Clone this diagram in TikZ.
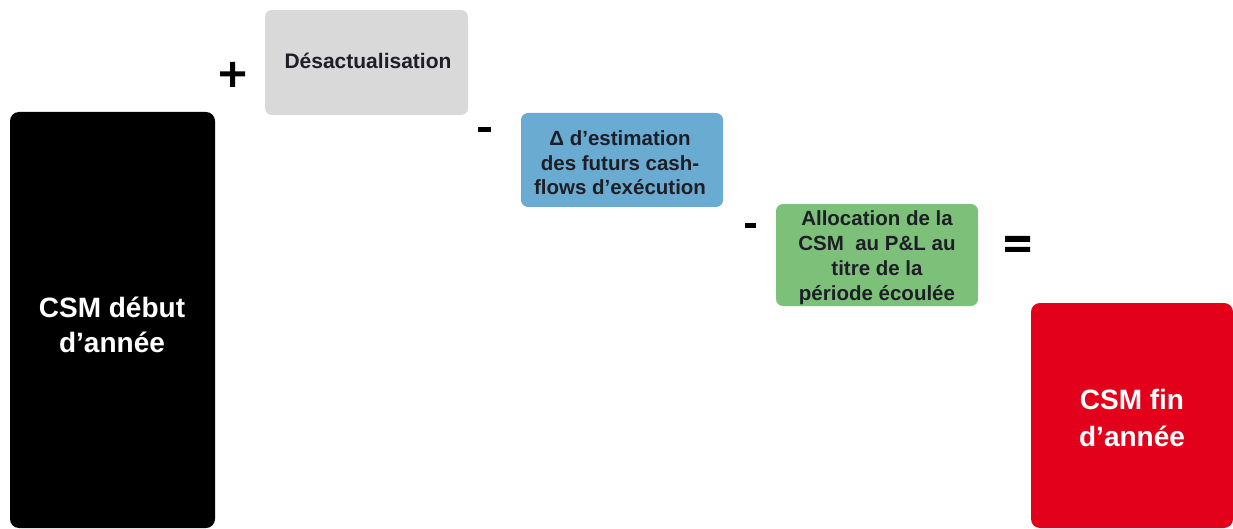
\documentclass[tikz,border=0pt]{standalone}
\usepackage{fontspec}
\setmainfont{Liberation Sans}
\definecolor{csmred}{RGB}{227,0,27}
\definecolor{greybox}{RGB}{217,217,217}
\definecolor{bluebox}{RGB}{106,171,210}
\definecolor{greenbox}{RGB}{125,192,122}
\definecolor{inktext}{RGB}{30,30,38}
\newcommand{\sq}{\symbol{"27}}
\begin{document}
\begin{tikzpicture}[x=1pt,y=1pt,
  box/.style={inner sep=0pt, align=center},
  small/.style={box, text=inktext, font=\bfseries\fontsize{20.5}{24.5}\selectfont}]
\useasboundingbox (0,0) rectangle (1233,528);
% opening and closing balances
\fill[black, rounded corners=9pt] (10,0) rectangle (215,416);
\node[box, text=white, font=\bfseries\fontsize{28}{35}\selectfont] (debut) at (112,203) {CSM début\\d’année};
\fill[csmred, rounded corners=9pt] (1031,0) rectangle (1233,225);
\node[box, text=white, font=\bfseries\fontsize{28}{37}\selectfont] (fin) at (1132,110) {CSM fin\\d’année};
% movements
\fill[greybox, rounded corners=7pt] (265,413) rectangle (468,518);
\node[box, text=inktext, font=\bfseries\fontsize{21}{24}\selectfont] (desact) at (368,467) {Désactualisation};
\fill[bluebox, rounded corners=7pt] (521,321) rectangle (723,415);
\node[small] (delta) at (620,365) {Δ d\sq estimation\\des futurs cash-\\flows d\sq exécution};
\fill[greenbox, rounded corners=7pt] (776,222) rectangle (978,324);
\node[small, font=\bfseries\fontsize{20.5}{25}\selectfont] (alloc) at (877,270) {Allocation de la\\CSM\ \ au P\&L au\\titre de la\\période écoulée};
% operators
\fill[black] (220,451.5) rectangle (245,456.5) (230,441) rectangle (235,466);
\fill[black] (478,396) rectangle (491,400.5);
\fill[black] (745,300) rectangle (756,305);
\fill[black] (1005,286) rectangle (1030,292) (1005,276) rectangle (1030,281);
\end{tikzpicture}
\end{document}
